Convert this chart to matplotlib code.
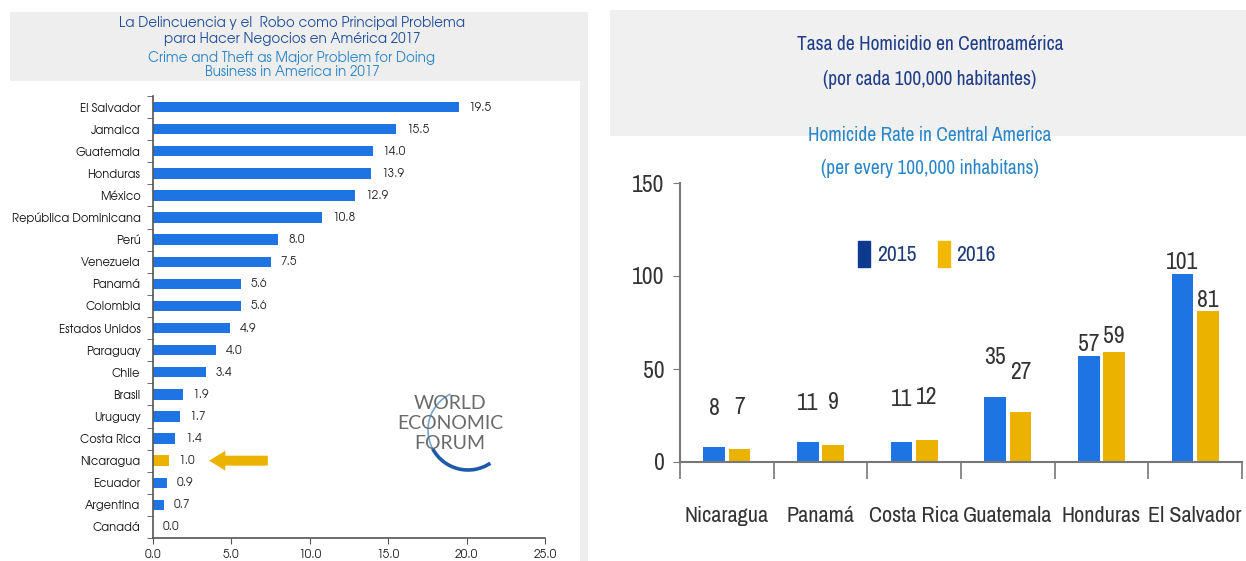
import numpy as np
import matplotlib.pyplot as plt
from matplotlib import font_manager as fm
from matplotlib.patches import Rectangle, Arc, Patch

# Left chart: crime and theft as major problem (WEF 2017)
countries = ["El Salvador", "Jamaica", "Guatemala", "Honduras", "México",
             "República Dominicana", "Perú", "Venezuela", "Panamá", "Colombia",
             "Estados Unidos", "Paraguay", "Chile", "Brasil", "Uruguay",
             "Costa Rica", "Nicaragua", "Ecuador", "Argentina", "Canadá"]
crime_values = [19.5, 15.5, 14.0, 13.9, 12.9, 10.8, 8.0, 7.5, 5.6, 5.6,
                4.9, 4.0, 3.4, 1.9, 1.7, 1.4, 1.0, 0.9, 0.7, 0.0]
highlight = "Nicaragua"
x_ticks_left = [0, 5, 10, 15, 20, 25]

# Right chart: homicide rate in Central America
ca_countries = ["Nicaragua", "Panamá", "Costa Rica", "Guatemala", "Honduras", "El Salvador"]
rate_2015 = [8, 11, 11, 35, 57, 101]
rate_2016 = [7, 9, 12, 27, 59, 81]
years = ["2015", "2016"]
y_ticks_right = [0, 50, 100, 150]

W, H = 1246, 561
BLUE = "#1F74E4"
GOLD = "#EBB300"
NAVY = "#1F3C88"
LIGHTBLUE = "#2A86C8"

available = set(fm.fontManager.get_font_names())


def pick(*names):
    for n in names:
        if n in available:
            return [n, "DejaVu Sans"]
    return ["DejaVu Sans"]


NARROW = pick("Arial Narrow", "Liberation Sans Narrow", "Archivo Narrow", "PT Sans Narrow",
              "Roboto Condensed", "Open Sans Condensed")
GOTHIC = pick("URW Gothic", "TeX Gyre Adventor", "Didact Gothic", "Questrial", "Century Gothic")
LOGO = pick("Lato", "Open Sans")


def fbox(x0, y0, x1, y1):
    # pixel box -> figure fraction [left, bottom, width, height]
    return [x0 / W, 1 - y1 / H, (x1 - x0) / W, (y1 - y0) / H]


fig = plt.figure(figsize=(W / 100, H / 100), dpi=100)

# background panels drawn in pixel coordinates
bg = fig.add_axes([0, 0, 1, 1], zorder=0)
bg.set_xlim(0, W)
bg.set_ylim(H, 0)
bg.axis("off")
bg.add_patch(Rectangle((10, 12), 578, 549, color="#EEEEEE", lw=0))
bg.add_patch(Rectangle((10, 81), 570, 480, color="white", lw=0))
bg.add_patch(Rectangle((610, 10), 636, 126, color="#F0F0F0", lw=0))

# left titles
fig.text(292 / W, 1 - 31 / H, "La Delincuencia y el  Robo como Principal Problema\npara Hacer Negocios en América 2017",
         ha="center", va="center", fontsize=9.7, color="#1F4E9A", linespacing=1.15, family=GOTHIC)
fig.text(292 / W, 1 - 65 / H, "Crime and Theft as Major Problem for Doing\nBusiness in America in 2017",
         ha="center", va="center", fontsize=9.7, color=LIGHTBLUE, linespacing=1.0, family=GOTHIC)

# left bar chart
ax1 = fig.add_axes(fbox(153, 96, 545, 538), zorder=1)
ax1.set_facecolor("none")
ypos = np.arange(len(countries))
colors = [GOLD if c == highlight else BLUE for c in countries]
ax1.barh(ypos, crime_values, height=0.47, color=colors)
for y, v in zip(ypos, crime_values):
    ax1.annotate(f"{v:.1f}", (v, y), xytext=(7, 0), textcoords="offset points",
                 va="center", ha="left", fontsize=8.5, color="#222222", family=GOTHIC)
ax1.set_ylim(len(countries) - 0.5, -0.5)
ax1.set_xlim(0, 25)
ax1.set_yticks(ypos)
ax1.set_yticklabels(countries, fontsize=8.2, color="#111111", family=GOTHIC)
ax1.set_yticks(np.arange(len(countries) + 1) - 0.5, minor=True)
ax1.tick_params(axis="y", which="major", length=0, pad=9)
ax1.tick_params(axis="y", which="minor", length=4, color="#555555")
ax1.set_xticks(x_ticks_left)
ax1.set_xticklabels([f"{t:.1f}" for t in x_ticks_left], fontsize=8.5, color="#222222", family=GOTHIC)
ax1.tick_params(axis="x", length=4, color="#555555", pad=4)
for s in ["top", "right"]:
    ax1.spines[s].set_visible(False)
for s in ["left", "bottom"]:
    ax1.spines[s].set_color("#555555")
    ax1.spines[s].set_linewidth(1.2)

# arrow pointing at Nicaragua
ny = countries.index(highlight)
ax1.annotate("", xy=(3.4, ny), xytext=(7.5, ny),
             arrowprops=dict(arrowstyle="simple,head_length=0.9,head_width=1.1,tail_width=0.55",
                             color=GOLD, lw=0, mutation_scale=13))

# World Economic Forum logo
for txt, yy in [("WORLD", 403), ("ECONOMIC", 423), ("FORUM", 443)]:
    bg.text(450, yy, txt, ha="center", va="center", fontsize=14, color="#6A6A6A",
            family=LOGO, zorder=3)
bg.add_patch(Arc((468, 430), 80, 80, theta1=150, theta2=244, color="#6FA6DA", lw=1.2, zorder=2))
bg.add_patch(Arc((468, 430), 80, 80, theta1=56, theta2=152, color="#1E5AA8", lw=2.6, zorder=2))

# right titles
fig.text(930 / W, 1 - 62 / H, "Tasa de Homicidio en Centroamérica\n(por cada 100,000 habitantes)",
         ha="center", va="center", fontsize=14, color=NAVY, family=NARROW, linespacing=2.05)
fig.text(930 / W, 1 - 152 / H, "Homicide Rate in Central America\n(per every 100,000 inhabitans)",
         ha="center", va="center", fontsize=14, color=LIGHTBLUE, family=NARROW, linespacing=1.95)

# right grouped bar chart
ax2 = fig.add_axes(fbox(680, 183, 1242, 462), zorder=1)
ax2.set_facecolor("none")
xpos = np.arange(len(ca_countries))
bw = 0.23
ax2.bar(xpos - 0.135, rate_2015, width=bw, color=BLUE)
ax2.bar(xpos + 0.135, rate_2016, width=bw, color=GOLD)
off_2015 = [20, 20, 23, 21, 1, 1]
off_2016 = [22, 23, 23, 21, 4, 0]
for x, v, o in zip(xpos - 0.135, rate_2015, off_2015):
    ax2.annotate(str(v), (x, v), xytext=(0, o), textcoords="offset points",
                 ha="center", va="bottom", fontsize=17, color="#333333", family=NARROW)
for x, v, o in zip(xpos + 0.135, rate_2016, off_2016):
    ax2.annotate(str(v), (x, v), xytext=(0, o), textcoords="offset points",
                 ha="center", va="bottom", fontsize=17, color="#333333", family=NARROW)
ax2.set_xlim(-0.5, len(ca_countries) - 0.5)
ax2.set_ylim(0, 150)
ax2.set_yticks(y_ticks_right)
ax2.set_yticklabels([str(t) for t in y_ticks_right], fontsize=17, color="#333333", family=NARROW)
ax2.tick_params(axis="y", length=5, color="#777777", pad=6)
ax2.set_xticks(xpos)
ax2.set_xticklabels(ca_countries, fontsize=16, color="#333333", family=NARROW)
ax2.set_xticks(np.arange(len(ca_countries) + 1) - 0.5, minor=True)
ax2.tick_params(axis="x", which="major", length=0, pad=32)
ax2.tick_params(axis="x", which="minor", length=12, color="#777777", width=1.2)
for s in ["top", "right"]:
    ax2.spines[s].set_visible(False)
for s in ["left", "bottom"]:
    ax2.spines[s].set_color("#777777")
    ax2.spines[s].set_linewidth(1.5)

handles = [Patch(color="#0D3A8E"), Patch(color="#F2B800")]
ax2.legend(handles, years, loc="center", bbox_to_anchor=(927 / W, 1 - 254 / H),
           bbox_transform=fig.transFigure, ncol=2, frameon=False,
           handlelength=0.55, handleheight=1.5, handletextpad=0.3, columnspacing=1.0,
           labelcolor="#1F3A7A", prop={"family": NARROW, "size": 15.5})

fig.savefig("out.png", dpi=100)
